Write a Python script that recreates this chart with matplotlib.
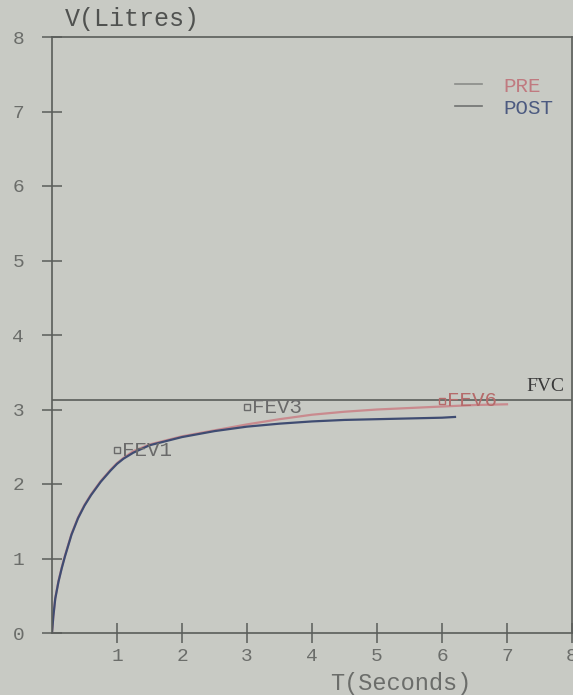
import matplotlib
matplotlib.use('Agg')
import matplotlib.pyplot as plt
from matplotlib.lines import Line2D

# 数据
t_pre = [0, 0.02, 0.05, 0.1, 0.15, 0.2, 0.3, 0.4, 0.5, 0.6, 0.75, 0.9, 1.0, 1.1, 1.25, 1.5,
         2.0, 2.5, 3.0, 3.5, 4.0, 4.5, 5.0, 5.5, 6.0, 6.5, 7.0]
v_pre = [0, 0.22, 0.47, 0.70, 0.88, 1.04, 1.33, 1.55, 1.72, 1.86, 2.04, 2.19, 2.28, 2.35, 2.44, 2.53,
         2.64, 2.72, 2.80, 2.87, 2.93, 2.97, 3.00, 3.02, 3.04, 3.06, 3.07]
t_post = [0, 0.02, 0.05, 0.1, 0.15, 0.2, 0.3, 0.4, 0.5, 0.6, 0.75, 0.9, 1.0, 1.1, 1.25, 1.5,
          2.0, 2.5, 3.0, 3.5, 4.0, 4.5, 5.0, 5.5, 6.0, 6.2]
v_post = [0, 0.22, 0.46, 0.69, 0.87, 1.03, 1.32, 1.54, 1.71, 1.85, 2.03, 2.18, 2.27, 2.34, 2.42, 2.52,
          2.63, 2.71, 2.77, 2.81, 2.84, 2.86, 2.87, 2.88, 2.89, 2.90]
fvc = 3.13
fev_labels = ["FEV1", "FEV3", "FEV6"]
fev_t = [1.0, 3.0, 6.0]
fev_mark_v = [2.45, 3.03, 3.12]
x_ticks = [1, 2, 3, 4, 5, 6, 7, 8]
y_ticks = [0, 1, 2, 3, 4, 5, 6, 7, 8]

bg = '#c8cac4'
axc = '#5a5d5a'
mono = ['Liberation Mono', 'DejaVu Sans Mono']

fig = plt.figure(figsize=(5.73, 6.95), dpi=100, facecolor=bg)
ax = fig.add_axes([52 / 573, 62 / 695, 520 / 573, 596 / 695], facecolor=bg)

ax.plot(t_pre, v_pre, color='#c98a8e', lw=1.6)
ax.plot(t_post, v_post, color='#3f4c72', lw=1.6)
ax.axhline(fvc, color=axc, lw=1.2)
ax.text(7.3, fvc + 0.07, "FVC", family='Liberation Serif', fontsize=14,
        color='#3a3a3a', va='bottom', ha='left')

for lab, t, v, c in zip(fev_labels, fev_t, fev_mark_v, ['#6a6a6a', '#6a6a6a', '#b56a6a']):
    ax.plot(t, v, 's', ms=5, mfc='none', mec=c, mew=1)
    ax.text(t + 0.07, v, lab, family=mono, fontsize=15, color=c, va='center', ha='left')

ax.set_xlim(0, 8)
ax.set_ylim(0, 8)
ax.set_xticks(x_ticks)
ax.set_yticks(y_ticks)
ax.tick_params(direction='inout', length=14, width=1.1, color=axc, labelcolor='#6b6d6a',
               labelsize=14, pad=4)
ax.tick_params(axis='y', pad=13)
for lbl in ax.get_xticklabels() + ax.get_yticklabels():
    lbl.set_family(mono)
for s in ax.spines.values():
    s.set_color(axc)
    s.set_linewidth(1.2)

ax.text(0.025, 1.01, "V(Litres)", transform=ax.transAxes, family=mono, fontsize=18,
        color='#505250', va='bottom', ha='left')
ax.set_xlabel("T(Seconds)", family=mono, fontsize=17, color='#6b6d6a')
ax.xaxis.set_label_coords(0.67, -0.065)

handles = [Line2D([], [], color='#8a8c88', lw=1.2), Line2D([], [], color='#707270', lw=1.2)]
leg = ax.legend(handles, ["PRE", "POST"], loc='upper right', bbox_to_anchor=(1.0, 0.965),
                frameon=False, handlelength=1.3, handletextpad=1.0, labelspacing=0.15,
                prop={'family': mono, 'size': 15})
for txt, c in zip(leg.get_texts(), ['#c07a80', '#4c5a80']):
    txt.set_color(c)

plt.savefig("out.png", dpi=100, facecolor=bg)
plt.close()
